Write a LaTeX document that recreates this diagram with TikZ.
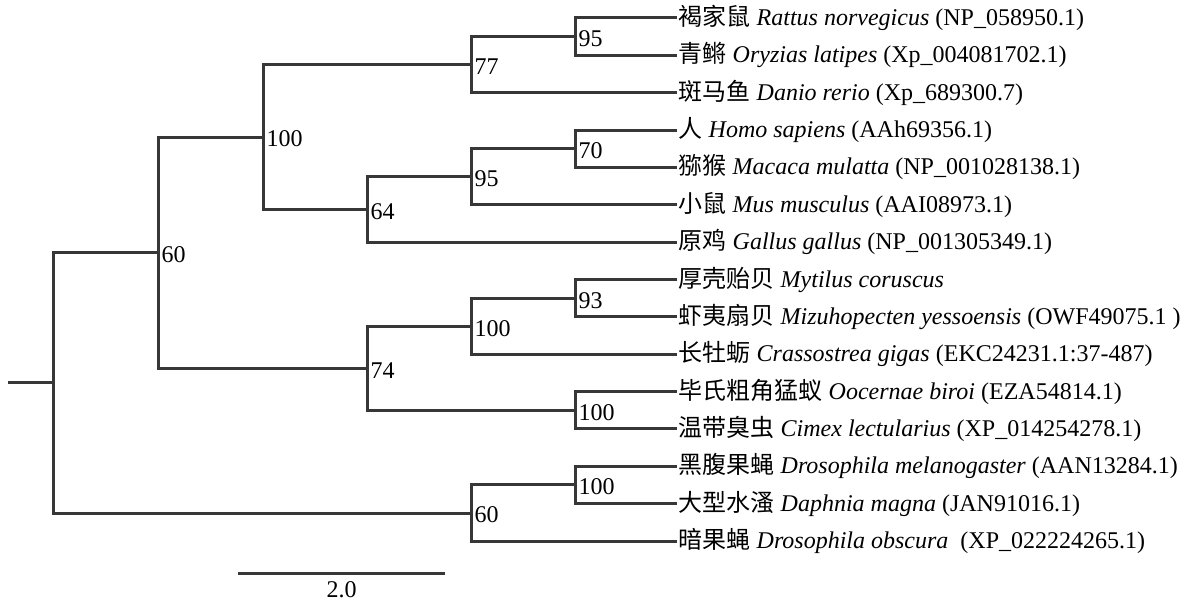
\documentclass[tikz,border=0pt]{standalone}
\usepackage{fontspec}
\setmainfont{Liberation Serif}
\newfontfamily\cjk{Noto Sans CJK SC}
\definecolor{brc}{RGB}{55,55,55}
\begin{document}
\begin{tikzpicture}[x=1pt,y=-1pt,
  br/.style={draw=brc, line width=3pt, line join=miter},
  leaf/.style={anchor=west, inner sep=1.5pt, font=\fontsize{24}{29}\selectfont},
  bs/.style={anchor=west, inner sep=1pt, xshift=2.5pt, yshift=-2pt, font=\fontsize{24}{29}\selectfont}]
\useasboundingbox (0,0) rectangle (1192,601);
% leaves
\node[leaf] (l1) at (677,18) {{\cjk 褐家鼠} \textit{Rattus norvegicus} (NP\_058950.1)};
\node[leaf] (l2) at (677,55.36) {{\cjk 青鳉} \textit{Oryzias latipes} (Xp\_004081702.1)};
\node[leaf] (l3) at (677,92.72) {{\cjk 斑马鱼} \textit{Danio rerio} (Xp\_689300.7)};
\node[leaf] (l4) at (677,130.08) {{\cjk 人} \textit{Homo sapiens} (AAh69356.1)};
\node[leaf] (l5) at (677,167.44) {{\cjk 猕猴} \textit{Macaca mulatta} (NP\_001028138.1)};
\node[leaf] (l6) at (677,204.8) {{\cjk 小鼠} \textit{Mus musculus} (AAI08973.1)};
\node[leaf] (l7) at (677,242.16) {{\cjk 原鸡} \textit{Gallus gallus} (NP\_001305349.1)};
\node[leaf] (l8) at (677,279.52) {{\cjk 厚壳贻贝} \textit{Mytilus coruscus}};
\node[leaf] (l9) at (677,316.88) {{\cjk 虾夷扇贝} \textit{Mizuhopecten yessoensis} (OWF49075.1 )};
\node[leaf] (l10) at (677,354.24) {{\cjk 长牡蛎} \textit{Crassostrea gigas} (EKC24231.1:37-487)};
\node[leaf] (l11) at (677,391.6) {{\cjk 毕氏粗角猛蚁} \textit{Oocernae biroi} (EZA54814.1)};
\node[leaf] (l12) at (677,428.96) {{\cjk 温带臭虫} \textit{Cimex lectularius} (XP\_014254278.1)};
\node[leaf] (l13) at (677,466.32) {{\cjk 黑腹果蝇} \textit{Drosophila melanogaster} (AAN13284.1)};
\node[leaf] (l14) at (677,503.68) {{\cjk 大型水溞} \textit{Daphnia magna} (JAN91016.1)};
\node[leaf] (l15) at (677,541.04) {{\cjk 暗果蝇} \textit{Drosophila obscura}\hspace{0.25em} (XP\_022224265.1)};
% internal nodes
\coordinate (A) at (575,36.68);
\coordinate (B) at (471,64.7);
\coordinate (C) at (575,148.76);
\coordinate (D) at (471,176.78);
\coordinate (E) at (367,209.47);
\coordinate (F) at (263,137.09);
\coordinate (G) at (575,298.2);
\coordinate (H) at (471,326.22);
\coordinate (I) at (575,410.28);
\coordinate (J) at (367,368.25);
\coordinate (K) at (158,252.67);
\coordinate (M) at (575,485);
\coordinate (N) at (471,513.02);
\coordinate (R) at (53,382.85);
\coordinate (S) at (8,382.85);
% branches
\draw[br] (l1.west) -| (A) |- (l2.west);
\draw[br] (A) -| (B) |- (l3.west);
\draw[br] (l4.west) -| (C) |- (l5.west);
\draw[br] (C) -| (D) |- (l6.west);
\draw[br] (D) -| (E) |- (l7.west);
\draw[br] (B) -| (F) |- (E);
\draw[br] (l8.west) -| (G) |- (l9.west);
\draw[br] (G) -| (H) |- (l10.west);
\draw[br] (l11.west) -| (I) |- (l12.west);
\draw[br] (H) -| (J) |- (I);
\draw[br] (F) -| (K) |- (J);
\draw[br] (l13.west) -| (M) |- (l14.west);
\draw[br] (M) -| (N) |- (l15.west);
\draw[br] (K) -| (R) |- (N);
\draw[br] (S) -- (R);
% bootstrap values
\node[bs] (bA) at (A) {95};
\node[bs] (bB) at (B) {77};
\node[bs] (bC) at (C) {70};
\node[bs] (bD) at (D) {95};
\node[bs] (bE) at (E) {64};
\node[bs] (bF) at (F) {100};
\node[bs] (bG) at (G) {93};
\node[bs] (bH) at (H) {100};
\node[bs] (bI) at (I) {100};
\node[bs] (bJ) at (J) {74};
\node[bs] (bK) at (K) {60};
\node[bs] (bM) at (M) {100};
\node[bs] (bN) at (N) {60};
% scale bar
\coordinate (s1) at (238,573);
\coordinate (s2) at (445,573);
\draw[br] (s1) -- (s2);
\node[font=\fontsize{24}{29}\selectfont, inner sep=0pt] (sl) at (341.5,590) {2.0};
\end{tikzpicture}
\end{document}
